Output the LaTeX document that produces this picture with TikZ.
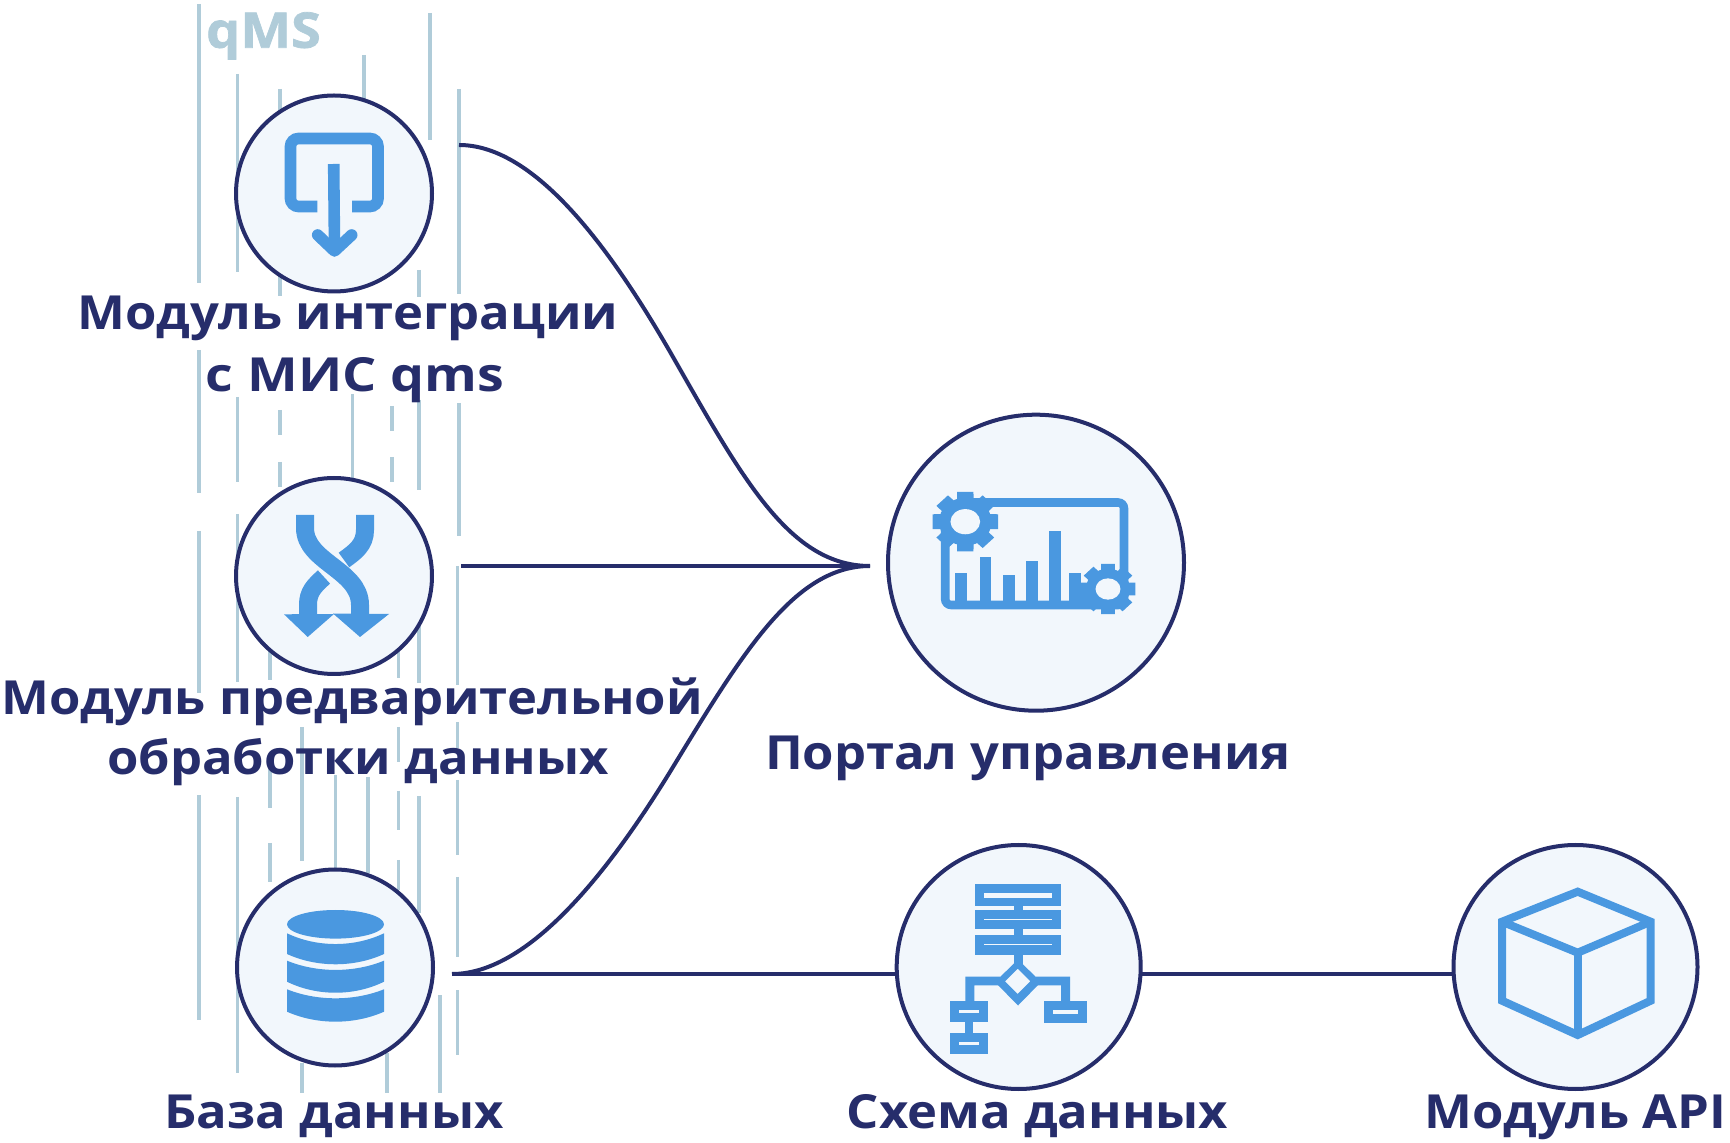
\documentclass[tikz,border=0pt]{standalone}
\usepackage{fontspec}
\setmainfont{Open Sans}[FakeStretch=1.08]
\newfontfamily\qmsfont{Open Sans}[FakeStretch=1.1,BoldFeatures={FakeBold=1.5}]
\usetikzlibrary{backgrounds}
\definecolor{navy}{HTML}{262D6B}
\definecolor{iconblue}{HTML}{4A98E0}
\definecolor{disc}{HTML}{F2F7FC}
\definecolor{rainc}{HTML}{B0CCD9}
\tikzset{
  x=0.5pt,y=-0.5pt,
  disc/.style={circle,draw=navy,fill=disc,line width=2pt,inner sep=0pt,minimum size=#1*0.5pt},
  link/.style={draw=navy,line width=2pt},
  rain/.style={draw=rainc,line width=1.55pt},
  caption/.style={anchor=base,text=navy,font=\fontsize{23.5}{28}\selectfont\bfseries,inner sep=0pt},
  ic/.style={fill=iconblue},
  icline/.style={draw=iconblue,line width=5.8pt},
  slit/.style={fill=disc}
}
\newcommand{\gearicon}[4]{%
  \begin{scope}[shift={(#1,#2)},x=#3*0.5pt,y=-#4*0.5pt]
    \fill[ic] (0,0) ellipse [x radius=.78,y radius=.78];
    \foreach \a in {0,45,...,315}{
      \fill[ic] ({\a-20}:.72) -- ({\a-14}:1) -- ({\a+14}:1) -- ({\a+20}:.72) -- cycle;
    }
    \fill[slit] (0,0) ellipse [x radius=.44,y radius=.41];
  \end{scope}}
\newcommand{\chartbar}[4]{\fill[ic] (#1,#2) rectangle (#3,#4);}
\newcommand{\vrain}[3]{\draw[rain] (#1,#2) -- (#1,#3);}
\begin{document}
\begin{tikzpicture}
\useasboundingbox (0,0) rectangle (1730,1143);

% discs
\node[disc=196] (integ) at (334,193.5) {};
\node[disc=196] (prep) at (334,576) {};
\node[disc=196] (db) at (335,967.5) {};
\node[disc=296] (portal) at (1036,562.7) {};
\node[disc=244] (schema) at (1018.7,967) {};
\node[disc=244] (api) at (1575.5,967) {};

\coordinate (hub) at (870,566);
\coordinate (integout) at (459,145);
\coordinate (prepout) at (461,566);
\coordinate (dbout) at (452,974);

\begin{scope}[on background layer]
  % vertical dashes
  \vrain{199}{4}{283}\vrain{199}{350}{493}\vrain{199}{531}{693}\vrain{199}{795}{1020}
  \vrain{237.7}{74}{272}\vrain{237.7}{397}{482}\vrain{237.3}{514}{682}\vrain{237.3}{797}{1073}
  \vrain{280}{89}{296}\vrain{280}{410}{435}\vrain{280}{462}{487}
  \vrain{270}{650}{680}\vrain{270}{768}{808}\vrain{270}{843}{882}
  \vrain{302}{727}{861}\vrain{302}{1063}{1093}
  \vrain{335.7}{775}{868}
  \vrain{352.7}{394}{478}
  \vrain{364}{55}{100}
  \vrain{368}{777}{873}
  \vrain{387}{1053}{1093}
  \vrain{392}{406}{431}\vrain{392}{457}{482}
  \vrain{398.5}{650}{678}\vrain{398.5}{727}{762}\vrain{398.5}{791}{830}\vrain{398.5}{860}{890}
  \vrain{419}{270}{297}\vrain{419}{400}{490}\vrain{419}{610}{683}\vrain{419}{796}{913}
  \vrain{430}{13}{140}
  \vrain{440}{995}{1093}
  \vrain{459}{89}{294}\vrain{459}{403}{536}
  \vrain{457.7}{566}{685}\vrain{457.7}{722}{748}\vrain{457.7}{780}{855}\vrain{457.7}{877}{957}\vrain{457.7}{990}{1055}
  % connectors
  \draw[link] (integout) .. controls (530,145) and (603,234.5) .. (673,357)
     .. controls (743,479.5) and (790,566) .. (hub);
  \draw[link] (prepout) -- (hub);
  \draw[link] (dbout) .. controls (525,974) and (603,882) .. (673,767)
     .. controls (743,652) and (795,566) .. (hub);
  \draw[link] (dbout) -- (dbout -| schema.center);
  \draw[link] (dbout -| schema.center) -- (dbout -| api.center);
\end{scope}

% icon: integration
\draw[icline,rounded corners=4pt] (317.3,206.5) -- (290.5,206.5) -- (290.5,138.5) -- (378,138.5) -- (378,206.5) -- (352,206.5);
\draw[icline] (333.7,164) -- (334.5,248);
\draw[icline,line cap=round,line join=round] (317.7,235) -- (334.5,251) -- (351.7,235);

% icon: crossing arrows
\draw[icline,line width=9pt] (365,515) -- (365,530) .. controls (365,545) and (355,552) .. (344,560);
\draw[icline,line width=9pt] (324,577) .. controls (314,586) and (308,592) .. (308,605) -- (308,616);
\draw[icline,line width=9pt] (305,515) -- (305,528) .. controls (305,562) and (360,570) .. (360,605) -- (360,616);
\fill[ic] (284,614.3) -- (334,614) -- (307.7,637) -- cycle;
\fill[ic] (333,613.5) -- (389,614) -- (360,637) -- cycle;

% icon: database
\fill[ic] (335.5,924.3) ellipse [x radius=48.5,y radius=14.3];
\fill[ic] (287,933.3) .. controls (317,947.6) and (354,947.6) .. (384,933.3) -- (384,954) .. controls (354,967.7) and (317,967.7) .. (287,954) -- cycle;
\fill[ic] (287,960.7) .. controls (317,973) and (354,973) .. (384,960.7) -- (384,981.7) .. controls (354,996.4) and (317,996.4) .. (287,981.7) -- cycle;
\fill[ic] (287,989.3) .. controls (317,1001.3) and (354,1001.3) .. (384,989.3) -- (384,1011.7) .. controls (354,1025) and (317,1025) .. (287,1011.7) -- cycle;

% icon: portal
\draw[draw=iconblue,line width=4.3pt,rounded corners=3pt] (945.2,520) -- (945.2,605) -- (1124,605) -- (1124,502.5) -- (965,502.5);
\chartbar{955}{573}{966.7}{602}
\chartbar{979.7}{556.7}{991.3}{602}
\chartbar{1003}{575.3}{1014.7}{602}
\chartbar{1026}{561.3}{1037.7}{602}
\chartbar{1049.3}{530.7}{1061}{602}
\chartbar{1069.3}{573}{1081}{602}
\chartbar{1081}{583}{1090}{602}
\gearicon{965.3}{521.7}{33.7}{30.7}
\gearicon{1108}{589}{28.3}{26}

% icon: schema
\fill[ic] (975,884) rectangle (1061,906.3);
\fill[ic] (975,910.3) rectangle (1061,929);
\fill[ic] (975,935) rectangle (1061,954.7);
\fill[ic] (1013.7,906) rectangle (1022.7,965);
\fill[slit] (984,893) rectangle (1052,897.7);
\fill[slit] (984,918.6) rectangle (1052,920);
\fill[slit] (984,944) rectangle (1052,945.4);
\fill[ic,even odd rule] (1018,959.5) -- (1041,982) -- (1018,1005.5) -- (995,982) -- cycle
   (1017.7,968.7) -- (1005,981.3) -- (1017.7,994) -- (1030.4,981.3) -- cycle;
\fill[ic] (1000,976.7) -- (965.3,976.7) -- (965.3,1002) -- (974.3,1002) -- (974.3,985.3) -- (1000,985.3) -- cycle;
\fill[ic] (1036,976.7) -- (1070,976.7) -- (1070,1002) -- (1061,1002) -- (1061,985.3) -- (1036,985.3) -- cycle;
\fill[ic] (950,1001.3) rectangle (988.3,1022);
\fill[ic] (965,1022) rectangle (973.3,1034);
\fill[ic] (950,1033.3) rectangle (988.3,1053.7);
\fill[ic] (1044.3,1001.3) rectangle (1087,1022.7);
\fill[slit] (959,1010.3) rectangle (979.3,1013.3);
\fill[slit] (959,1042) rectangle (979.3,1044.7);
\fill[slit] (1053.3,1010.3) rectangle (1078,1013.7);

% icon: cube
\draw[icline,line width=4pt,miter limit=10] (1577.7,891.7) -- (1650.7,921.7) -- (1650.7,1000.7) -- (1577.7,1035) -- (1502,1000.7) -- (1502,921.7) -- cycle;
\draw[icline,line width=4pt] (1502,921.7) -- (1577.7,952.7) -- (1650.7,921.7);
\draw[icline,line width=4pt] (1577.7,952.7) -- (1577.7,1035);

% captions
\node[caption,text=rainc,font=\fontsize{24.5}{30}\selectfont\qmsfont\bfseries] (qms) at (263.5,47.7) {qMS};
\node[caption] (t1) at (348,330) {Модуль интеграции};
\node[caption] (t2) at (355,391.7) {\scalebox{1.06}[1]{с МИС qms}};
\node[caption] (t3) at (352,715) {Модуль предварительной};
\node[caption] (t4) at (358,775) {обработки данных};
\node[caption] (t5) at (334,1128) {База данных};
\node[caption] (t6) at (1037.5,1128) {Схема данных};
\node[caption] (t7) at (1575.5,1128) {Модуль API};
\node[caption] (t8) at (1028,770) {Портал управления};
\end{tikzpicture}
\end{document}
